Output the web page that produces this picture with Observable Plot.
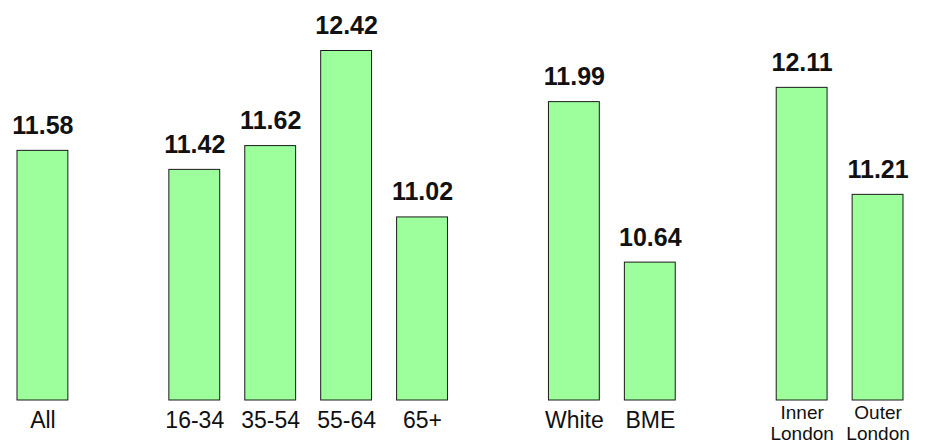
<!DOCTYPE html>
<html>
<head>
<meta charset="utf-8">
<script src="https://cdn.jsdelivr.net/npm/d3@7"></script>
<script src="https://cdn.jsdelivr.net/npm/@observablehq/plot@0.6"></script>
<style>
  html, body { margin: 0; padding: 0; background: #fff; }
  svg { display: block; }
</style>
</head>
<body>
<div id="chart"></div>
<script>
// Data
const categories = ["All", "16-34", "35-54", "55-64", "65+", "White", "BME", "Inner\nLondon", "Outer\nLondon"];
const values = [11.58, 11.42, 11.62, 12.42, 11.02, 11.99, 10.64, 12.11, 11.21];
// Slot order including blank gaps between groups
const slots = ["All", "gap1", "16-34", "35-54", "55-64", "65+", "gap2", "White", "BME", "gap3", "Inner\nLondon", "Outer\nLondon"];
const yMin = 9.48;
const yMax = 12.42;

const data = categories.map((c, i) => ({category: c, value: values[i]}));
const single = data.filter(d => !d.category.includes("\n"));
const multi = data.filter(d => d.category.includes("\n"));

const FONT = "'Liberation Sans', Arial, Helvetica, sans-serif";

const chart = Plot.plot({
  width: 929,
  height: 443,
  marginLeft: 17,
  marginRight: 26,
  marginTop: 50.5,
  marginBottom: 43,
  style: {fontFamily: FONT, background: "#fff", overflow: "visible"},
  x: {domain: slots, paddingInner: 0.33, paddingOuter: 0, align: 0.5, round: false, axis: null},
  y: {domain: [yMin, yMax], axis: null},
  marks: [
    Plot.barY(data, {x: "category", y1: () => yMin, y2: "value", fill: "#9cff9c", stroke: "#1a1a1a", strokeWidth: 1}),
    Plot.text(data, {x: "category", y: "value", text: d => d.value.toFixed(2), lineAnchor: "bottom", dy: -17, fontSize: 25, fontWeight: "bold", fill: "#111"}),
    Plot.text(single, {x: "category", y: () => yMin, text: "category", lineAnchor: "bottom", dy: 27, fontSize: 23, fill: "#111"}),
    Plot.text(multi, {x: "category", y: () => yMin, text: "category", lineAnchor: "top", dy: 4, fontSize: 19, lineHeight: 1.08, fill: "#111"})
  ]
});
document.getElementById("chart").appendChild(chart);
</script>
</body>
</html>
